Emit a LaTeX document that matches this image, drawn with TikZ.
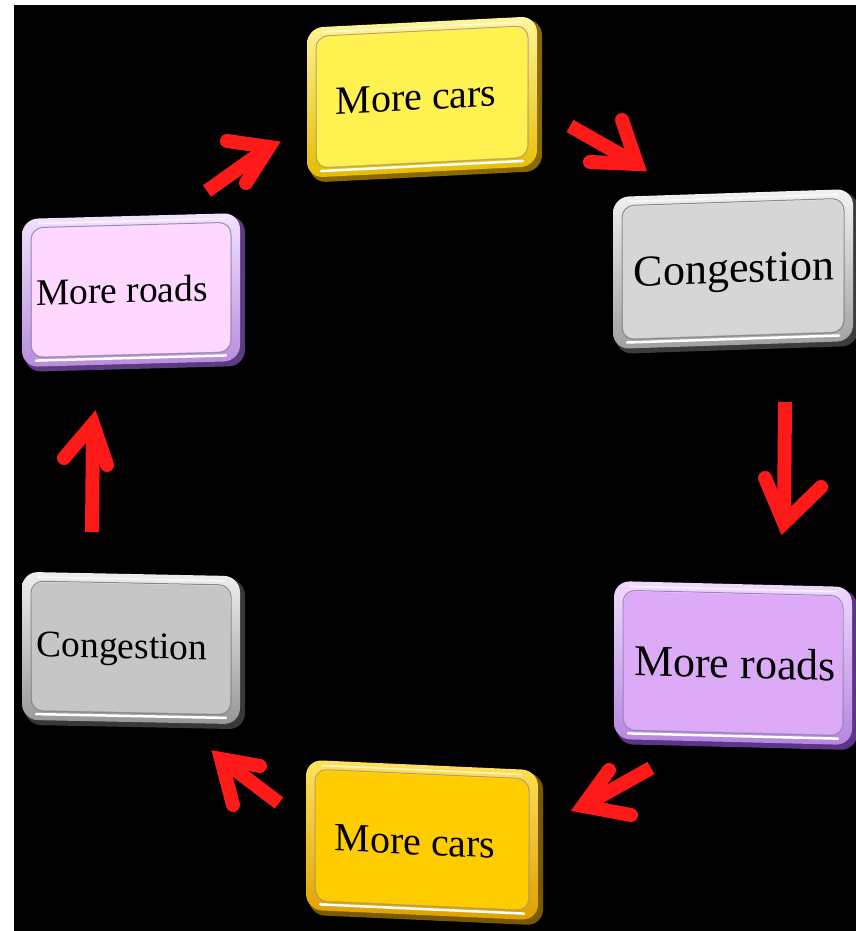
\documentclass[tikz,border=0pt]{standalone}
\usepackage{fontspec}
\setmainfont{Liberation Serif}
\definecolor{arrowred}{HTML}{FF1A1A}
\definecolor{ylwface}{HTML}{FFF150}\definecolor{ylwrim}{HTML}{E6BC00}\definecolor{ylwlight}{HTML}{FFF59A}\definecolor{ylwdark}{HTML}{8A6A00}
\definecolor{gldface}{HTML}{FFCC00}\definecolor{gldrim}{HTML}{E0A000}\definecolor{gldlight}{HTML}{FFE25A}\definecolor{glddark}{HTML}{7A5A00}
\definecolor{gryface}{HTML}{D6D6D6}\definecolor{gryrim}{HTML}{A0A0A0}\definecolor{grylight}{HTML}{F2F2F2}\definecolor{grydark}{HTML}{3C3C3C}
\definecolor{grbface}{HTML}{C6C6C6}\definecolor{grbrim}{HTML}{989898}\definecolor{grblight}{HTML}{EEEEEE}\definecolor{grbdark}{HTML}{383838}
\definecolor{lavface}{HTML}{DDAAF8}\definecolor{lavrim}{HTML}{B486E0}\definecolor{lavlight}{HTML}{F0DAFF}\definecolor{lavdark}{HTML}{5E3488}
\definecolor{pnkface}{HTML}{FFD8FF}\definecolor{pnkrim}{HTML}{B88CDC}\definecolor{pnklight}{HTML}{F2E2FF}\definecolor{pnkdark}{HTML}{5A3C80}
\tikzset{
  redshaft/.style={draw=arrowred, line width=14pt, line cap=butt},
  redhead/.style={draw=arrowred, line width=14pt, line cap=round, line join=miter},
  boxtext/.style={transform shape, text=black, inner sep=0pt}
}
% #1 name, #2 centre, #3 slant, #4 half width, #5 half height, #6 colour prefix, #7 font size, #8 text, #9 text offset
\newcommand\bevelbox[9]{%
  \begin{scope}[shift={#2}, yslant=#3]
    \fill[#6dark, rounded corners=16pt] (-#4+3,-#5+3) rectangle (#4+5,#5+5);
    \shade[rounded corners=16pt, top color=#6light, bottom color=#6rim] (-#4,-#5) rectangle (#4,#5);
    \draw[#6dark!60, line width=1pt, rounded corners=12pt] (-#4+9,-#5+9) rectangle (#4-9,#5-9);
    \fill[#6face, rounded corners=11pt] (-#4+10,-#5+10) rectangle (#4-10,#5-10);
    \draw[white, line width=2.5pt, line cap=round] (-#4+14,#5-6) -- (#4-14,#5-6);
    \draw[white, opacity=0.7, line width=1.5pt, line cap=round] (-#4+16,-#5+5) -- (#4-16,-#5+5);
    \node[boxtext, font=\fontsize{#7}{#7}\selectfont] (#1) at #9 {#8};
  \end{scope}}
% #1 name, #2 tail, #3 vertex, #4 barb a, #5 barb b
\newcommand\redarrow[5]{%
  \coordinate (#1t) at #2; \coordinate (#1v) at #3;
  \coordinate (#1a) at #4; \coordinate (#1b) at #5;
  \draw[redshaft] (#1t) -- (#1v);
  \draw[redhead] (#1a) -- (#1v) -- (#1b);}
\begin{document}
\begin{tikzpicture}[x=1pt, y=-1pt]
  \useasboundingbox (0,0) rectangle (856,931);
  \fill[white] (0,0) rectangle (856,931);
  \fill[black] (14,5) rectangle (856,931);
  \bevelbox{carsTop}{(422,97)}{0.05}{115}{75}{ylw}{40}{More cars}{(-6,0)}
  \bevelbox{congRight}{(733,269)}{0.033}{120}{76}{gry}{44}{Congestion}{(1,4)}
  \bevelbox{roadsRight}{(733,663)}{-0.025}{119}{79}{lav}{44}{More roads}{(2,0)}
  \bevelbox{carsBottom}{(422,840)}{-0.045}{116}{75}{gld}{40}{More cars}{(-7,2)}
  \bevelbox{congLeft}{(131,648)}{-0.02}{109}{74}{grb}{37.5}{Congestion}{(-9,2)}
  \bevelbox{roadsLeft}{(131,290)}{0.027}{109}{74}{pnk}{37.5}{More roads}{(-9,0)}
  \redarrow{aOne}{(207,191)}{(269,147)}{(227,141)}{(246,183)}
  \redarrow{aTwo}{(570,126)}{(637,164)}{(622,120)}{(590,162)}
  \redarrow{aThree}{(785,402)}{(784,523)}{(765,478)}{(821,487)}
  \redarrow{aFour}{(651,768)}{(583,806)}{(609,770)}{(631,815)}
  \redarrow{aFive}{(279,803)}{(221,759)}{(260,766)}{(233,805)}
  \redarrow{aSix}{(92,532)}{(93,424)}{(64,458)}{(107,465)}
\end{tikzpicture}
\end{document}
